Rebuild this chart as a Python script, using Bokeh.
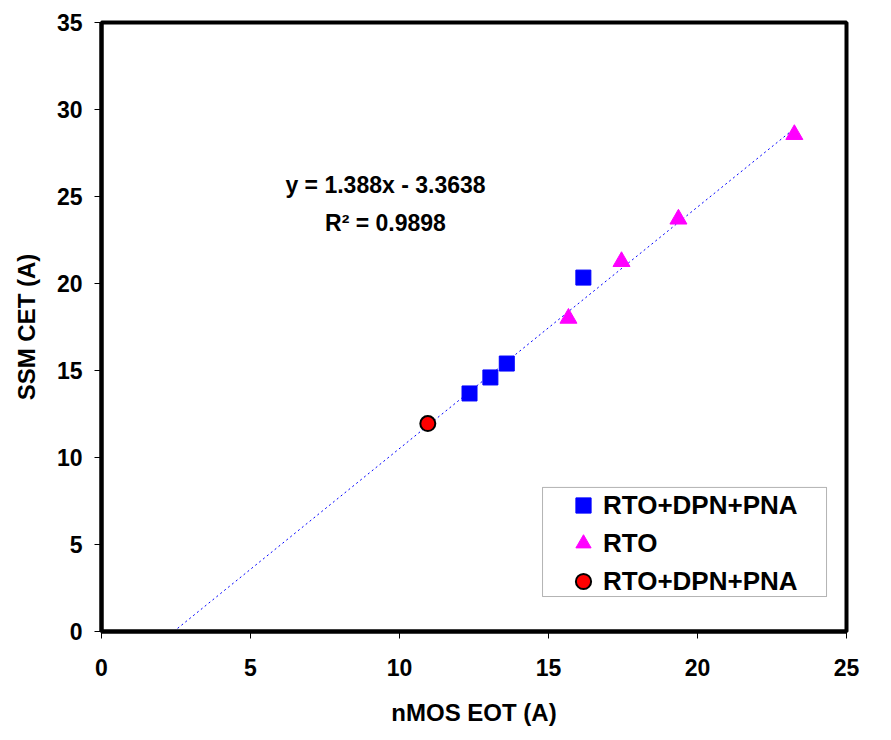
from bokeh.plotting import figure
from bokeh.models import Label, Legend, LegendItem, Range1d, BoxAnnotation
from bokeh.embed import file_html
from bokeh.resources import INLINE

sq_x = [12.35, 13.05, 13.6, 16.17]
sq_y = [13.68, 14.6, 15.4, 20.34]
tri_x = [15.67, 17.45, 19.36, 23.25]
tri_y = [18.0, 21.26, 23.7, 28.56]
cir_x = [10.95]
cir_y = [11.95]
slope = 1.388
intercept = -3.3638
fit_x = [-intercept / slope, 23.3]
fit_y = [slope * v + intercept for v in fit_x]
legend_labels = ["RTO+DPN+PNA", "RTO", "RTO+DPN+PNA"]

FONT = "Liberation Sans"

p = figure(width=878, height=730, output_backend="svg", toolbar_location=None,
           x_range=Range1d(0, 25), y_range=Range1d(0, 35),
           min_border_left=101, min_border_right=32, min_border_top=22, min_border_bottom=99)
p.xgrid.visible = False
p.ygrid.visible = False
p.outline_line_color = "black"
p.outline_line_width = 4
p.background_fill_color = "white"
p.border_fill_color = "white"

for ax in (p.xaxis[0], p.yaxis[0]):
    ax.axis_line_width = 4
    ax.axis_line_color = "black"
    ax.major_tick_line_color = "black"
    ax.major_tick_line_width = 1
    ax.major_tick_out = 7
    ax.major_tick_in = 0
    ax.minor_tick_line_color = None
    ax.major_label_text_font = FONT
    ax.major_label_text_font_style = "bold"
    ax.major_label_text_font_size = "23px"
    ax.major_label_text_color = "black"
    ax.axis_label_text_font = FONT
    ax.axis_label_text_font_style = "bold"
    ax.axis_label_text_font_size = "24px"
    ax.axis_label_text_color = "black"

p.xaxis.ticker = [0, 5, 10, 15, 20, 25]
p.yaxis.ticker = [0, 5, 10, 15, 20, 25, 30, 35]
p.xaxis.axis_label = "nMOS EOT (A)"
p.yaxis.axis_label = "SSM CET (A)"
p.xaxis.major_label_standoff = 20
p.yaxis.major_label_standoff = 12
p.xaxis.axis_label_standoff = 20
p.yaxis.axis_label_standoff = 14

p.line(fit_x, fit_y, line_color="blue", line_width=1, line_dash="2 3")

r_sq = p.scatter(sq_x, sq_y, marker="square", size=15, fill_color="blue", line_color="blue")
r_tri = p.scatter(tri_x, tri_y, marker="triangle", size=17, fill_color="magenta", line_color="magenta")
r_cir = p.scatter(cir_x, cir_y, marker="circle", size=15, fill_color="red", line_color="black", line_width=2)

# legend frame (x 14.8..24.33, y 2.01..8.28 in data units)
p.add_layout(BoxAnnotation(left=14.8, right=24.33, bottom=2.01, top=8.28,
                           fill_color="white", fill_alpha=1, line_color="black", line_width=1,
                           level="overlay"))

legend = Legend(items=[LegendItem(label=legend_labels[0], renderers=[r_sq]),
                       LegendItem(label=legend_labels[1], renderers=[r_tri]),
                       LegendItem(label=legend_labels[2], renderers=[r_cir])],
                location=(463, 31), level="overlay")
legend.label_text_font = FONT
legend.label_text_font_style = "bold"
legend.label_text_font_size = "26px"
legend.label_text_color = "black"
legend.border_line_color = None
legend.background_fill_alpha = 0
legend.padding = 0
legend.spacing = 0
legend.margin = 0
legend.glyph_width = 38
legend.glyph_height = 38
legend.label_height = 38
legend.label_standoff = 1
p.add_layout(legend)

p.add_layout(Label(x=385 - 101, y=631 - 184, x_units="screen", y_units="screen",
                   text="y = 1.388x - 3.3638", text_align="center", text_baseline="middle",
                   text_font=FONT, text_font_style="bold", text_font_size="23px", text_color="black"))
p.add_layout(Label(x=385 - 101, y=631 - 222, x_units="screen", y_units="screen",
                   text="R² = 0.9898", text_align="center", text_baseline="middle",
                   text_font=FONT, text_font_style="bold", text_font_size="23px", text_color="black"))

open("out.html", "w").write(file_html(p, INLINE))
